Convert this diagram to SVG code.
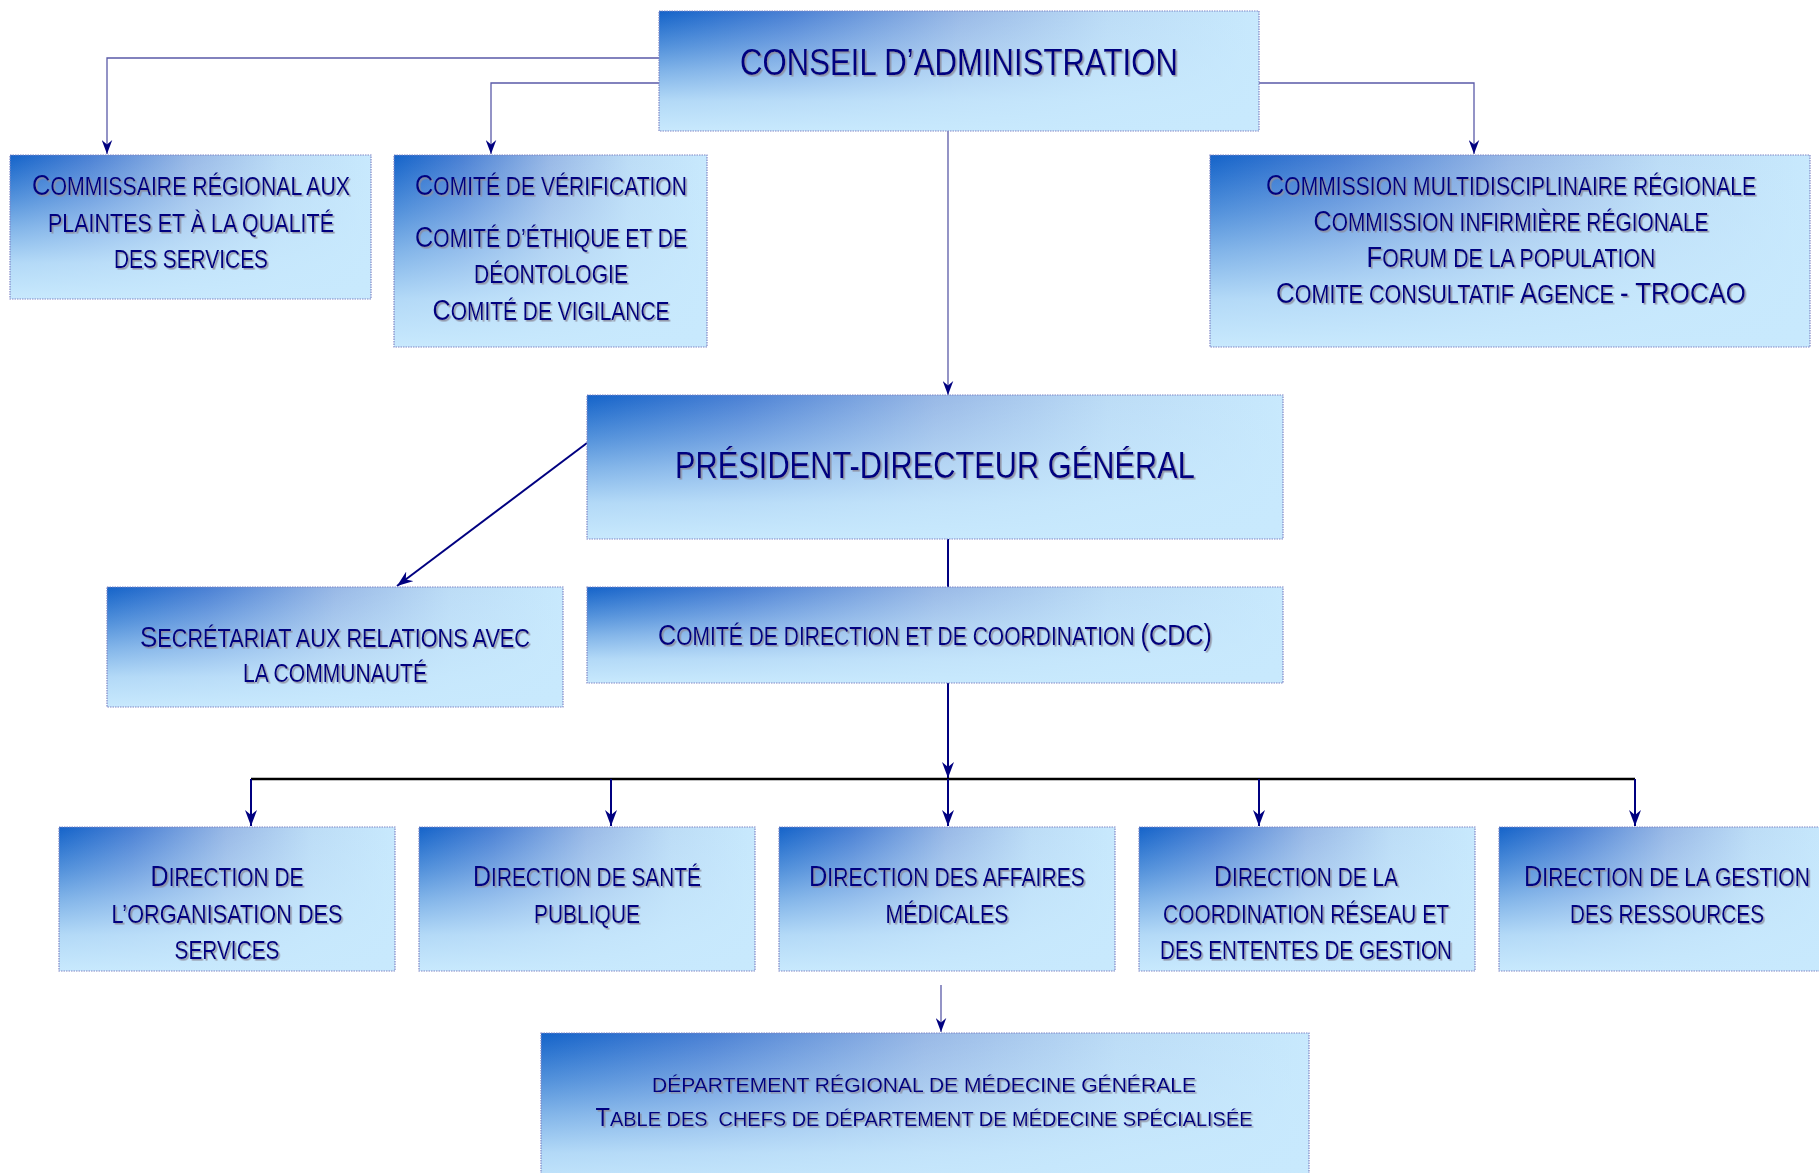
<svg xmlns="http://www.w3.org/2000/svg" width="1819" height="1173" viewBox="0 0 1819 1173">
<defs>
<linearGradient id="hg" x1="0" y1="0" x2="1" y2="0">
<stop offset="0" stop-color="#1463c9"/>
<stop offset="0.22" stop-color="#4a80d4"/>
<stop offset="0.5" stop-color="#98b8e6"/>
<stop offset="0.75" stop-color="#bcdcf6"/>
<stop offset="1" stop-color="#c8e9fd"/>
</linearGradient>
<linearGradient id="vg" x1="0" y1="0" x2="0" y2="1">
<stop offset="0" stop-color="#c8e9fd" stop-opacity="0"/>
<stop offset="0.3" stop-color="#c8e9fd" stop-opacity="0.35"/>
<stop offset="0.5" stop-color="#c8e9fd" stop-opacity="0.6"/>
<stop offset="0.75" stop-color="#c8e9fd" stop-opacity="0.88"/>
<stop offset="1" stop-color="#c8e9fd" stop-opacity="1"/>
</linearGradient>
<filter id="sh" x="-5%" y="-20%" width="110%" height="140%">
<feDropShadow dx="1.6" dy="1.6" stdDeviation="0.4" flood-color="#8c8c9c" flood-opacity="0.85"/>
</filter>
<marker id="ah" viewBox="0 0 16 12" refX="16" refY="6" markerWidth="16" markerHeight="12" markerUnits="userSpaceOnUse" orient="auto">
<path d="M0,0 L16,6 L0,12 L5,6 z" fill="#000080"/>
</marker>
<marker id="ahs" viewBox="0 0 16 12" refX="16" refY="6" markerWidth="14" markerHeight="11" markerUnits="userSpaceOnUse" orient="auto">
<path d="M0,0 L16,6 L0,12 L5,6 z" fill="#000080"/>
</marker>
</defs>
<style>
.box{fill:url(#hg)}
.ov{fill:url(#vg)}
.bd{fill:none;stroke:#7f86c6;stroke-width:1.2;stroke-dasharray:1.5 1}
.t{font-family:"Liberation Sans Narrow","Liberation Sans",Arial,sans-serif;fill:#000080;text-anchor:middle;font-size:25px;filter:url(#sh);white-space:pre}
.b{font-size:30px}
.h{font-size:37px}
.s{font-size:21px}
.bb{font-size:25px}
.thin{fill:none;stroke:#5a5aa8;stroke-width:1.3}
.nav{fill:none;stroke:#000080;stroke-width:2}
.bus{fill:none;stroke:#000000;stroke-width:2.5}
</style>
<rect width="1819" height="1173" fill="#ffffff"/>

<g id="connectors">
<path class="thin" d="M659,58 H107 V154" marker-end="url(#ahs)"/>
<path class="thin" d="M659,83 H491 V154" marker-end="url(#ahs)"/>
<path class="thin" d="M1259,83 H1474 V154" marker-end="url(#ahs)"/>
<path class="thin" d="M948,131 V395" marker-end="url(#ahs)"/>
<path class="nav" d="M587,443 L397,586" marker-end="url(#ah)"/>
<path class="nav" d="M948,539 V587" stroke-width="2.5"/>
<path class="nav" d="M948,683 V778" marker-end="url(#ah)"/>
<path class="bus" d="M251,779 H1635"/>
<path class="nav" d="M251,779 V826" marker-end="url(#ah)"/>
<path class="nav" d="M611,779 V826" marker-end="url(#ah)"/>
<path class="nav" d="M948,779 V826" marker-end="url(#ah)"/>
<path class="nav" d="M1259,779 V826" marker-end="url(#ah)"/>
<path class="nav" d="M1635,779 V826" marker-end="url(#ah)"/>
<path class="thin" d="M941,985 V1032" stroke="#000080" marker-end="url(#ahs)"/>
</g>

<g id="conseil">
<rect class="box" x="659" y="11" width="600" height="120"/>
<rect class="ov" x="659" y="11" width="600" height="120"/>
<rect class="bd" x="659" y="11" width="600" height="120"/>
<text class="t h" x="959" y="75" textLength="438" lengthAdjust="spacingAndGlyphs">CONSEIL D’ADMINISTRATION</text>
</g>

<g id="commissaire">
<rect class="box" x="10" y="155" width="361" height="144"/>
<rect class="ov" x="10" y="155" width="361" height="144"/>
<rect class="bd" x="10" y="155" width="361" height="144"/>
<text class="t" x="191" y="195" textLength="318" lengthAdjust="spacingAndGlyphs"><tspan class="b">C</tspan>OMMISSAIRE RÉGIONAL AUX</text>
<text class="t" x="191" y="232" textLength="286" lengthAdjust="spacingAndGlyphs">PLAINTES ET À LA QUALITÉ</text>
<text class="t" x="191" y="268" textLength="154" lengthAdjust="spacingAndGlyphs">DES SERVICES</text>
</g>

<g id="comites">
<rect class="box" x="394" y="155" width="313" height="192"/>
<rect class="ov" x="394" y="155" width="313" height="192"/>
<rect class="bd" x="394" y="155" width="313" height="192"/>
<text class="t" x="551" y="195" textLength="272" lengthAdjust="spacingAndGlyphs"><tspan class="b">C</tspan>OMITÉ DE VÉRIFICATION</text>
<text class="t" x="551" y="247" textLength="272" lengthAdjust="spacingAndGlyphs"><tspan class="b">C</tspan>OMITÉ D’ÉTHIQUE ET DE</text>
<text class="t" x="551" y="283" textLength="154" lengthAdjust="spacingAndGlyphs">DÉONTOLOGIE</text>
<text class="t" x="551" y="320" textLength="237" lengthAdjust="spacingAndGlyphs"><tspan class="b">C</tspan>OMITÉ DE VIGILANCE</text>
</g>

<g id="commissions">
<rect class="box" x="1210" y="155" width="600" height="192"/>
<rect class="ov" x="1210" y="155" width="600" height="192"/>
<rect class="bd" x="1210" y="155" width="600" height="192"/>
<text class="t" x="1511" y="195" textLength="490" lengthAdjust="spacingAndGlyphs"><tspan class="b">C</tspan>OMMISSION MULTIDISCIPLINAIRE RÉGIONALE</text>
<text class="t" x="1511" y="231" textLength="395" lengthAdjust="spacingAndGlyphs"><tspan class="b">C</tspan>OMMISSION INFIRMIÈRE RÉGIONALE</text>
<text class="t" x="1511" y="267" textLength="289" lengthAdjust="spacingAndGlyphs"><tspan class="b">F</tspan>ORUM DE LA POPULATION</text>
<text class="t" x="1511" y="303" textLength="470" lengthAdjust="spacingAndGlyphs"><tspan class="b">C</tspan>OMITE CONSULTATIF <tspan class="b">A</tspan>GENCE <tspan class="b">- TROCAO</tspan></text>
</g>

<g id="pdg">
<rect class="box" x="587" y="395" width="696" height="144"/>
<rect class="ov" x="587" y="395" width="696" height="144"/>
<rect class="bd" x="587" y="395" width="696" height="144"/>
<text class="t h" x="935" y="478" textLength="520" lengthAdjust="spacingAndGlyphs">PRÉSIDENT-DIRECTEUR GÉNÉRAL</text>
</g>

<g id="secretariat">
<rect class="box" x="107" y="587" width="456" height="120"/>
<rect class="ov" x="107" y="587" width="456" height="120"/>
<rect class="bd" x="107" y="587" width="456" height="120"/>
<text class="t" x="335" y="647" textLength="390" lengthAdjust="spacingAndGlyphs"><tspan class="b">S</tspan>ECRÉTARIAT AUX RELATIONS AVEC</text>
<text class="t" x="335" y="682" textLength="184" lengthAdjust="spacingAndGlyphs">LA COMMUNAUTÉ</text>
</g>

<g id="cdc">
<rect class="box" x="587" y="587" width="696" height="96"/>
<rect class="ov" x="587" y="587" width="696" height="96"/>
<rect class="bd" x="587" y="587" width="696" height="96"/>
<text class="t" x="935" y="645" textLength="554" lengthAdjust="spacingAndGlyphs"><tspan class="b">C</tspan>OMITÉ DE DIRECTION ET DE COORDINATION <tspan class="b">(CDC)</tspan></text>
</g>

<g id="dir-organisation">
<rect class="box" x="59" y="827" width="336" height="144"/>
<rect class="ov" x="59" y="827" width="336" height="144"/>
<rect class="bd" x="59" y="827" width="336" height="144"/>
<text class="t" x="227" y="886" textLength="153" lengthAdjust="spacingAndGlyphs"><tspan class="b">D</tspan>IRECTION DE</text>
<text class="t" x="227" y="923" textLength="231" lengthAdjust="spacingAndGlyphs">L’ORGANISATION DES</text>
<text class="t" x="227" y="959" textLength="105" lengthAdjust="spacingAndGlyphs">SERVICES</text>
</g>

<g id="dir-sante">
<rect class="box" x="419" y="827" width="336" height="144"/>
<rect class="ov" x="419" y="827" width="336" height="144"/>
<rect class="bd" x="419" y="827" width="336" height="144"/>
<text class="t" x="587" y="886" textLength="228" lengthAdjust="spacingAndGlyphs"><tspan class="b">D</tspan>IRECTION DE SANTÉ</text>
<text class="t" x="587" y="923" textLength="106" lengthAdjust="spacingAndGlyphs">PUBLIQUE</text>
</g>

<g id="dir-affaires">
<rect class="box" x="779" y="827" width="336" height="144"/>
<rect class="ov" x="779" y="827" width="336" height="144"/>
<rect class="bd" x="779" y="827" width="336" height="144"/>
<text class="t" x="947" y="886" textLength="276" lengthAdjust="spacingAndGlyphs"><tspan class="b">D</tspan>IRECTION DES AFFAIRES</text>
<text class="t" x="947" y="923" textLength="123" lengthAdjust="spacingAndGlyphs">MÉDICALES</text>
</g>

<g id="dir-coordination">
<rect class="box" x="1139" y="827" width="336" height="144"/>
<rect class="ov" x="1139" y="827" width="336" height="144"/>
<rect class="bd" x="1139" y="827" width="336" height="144"/>
<text class="t" x="1306" y="886" textLength="184" lengthAdjust="spacingAndGlyphs"><tspan class="b">D</tspan>IRECTION DE LA</text>
<text class="t" x="1306" y="923" textLength="286" lengthAdjust="spacingAndGlyphs">COORDINATION RÉSEAU ET</text>
<text class="t" x="1306" y="959" textLength="292" lengthAdjust="spacingAndGlyphs">DES ENTENTES DE GESTION</text>
</g>

<g id="dir-ressources">
<rect class="box" x="1499" y="827" width="336" height="144"/>
<rect class="ov" x="1499" y="827" width="336" height="144"/>
<rect class="bd" x="1499" y="827" width="336" height="144"/>
<text class="t" x="1667" y="886" textLength="286" lengthAdjust="spacingAndGlyphs"><tspan class="b">D</tspan>IRECTION DE LA GESTION</text>
<text class="t" x="1667" y="923" textLength="194" lengthAdjust="spacingAndGlyphs">DES RESSOURCES</text>
</g>

<g id="departement">
<rect class="box" x="541" y="1033" width="768" height="160"/>
<rect class="ov" x="541" y="1033" width="768" height="160"/>
<rect class="bd" x="541" y="1033" width="768" height="160"/>
<text class="t s" x="924" y="1092" textLength="544" lengthAdjust="spacingAndGlyphs">DÉPARTEMENT RÉGIONAL DE MÉDECINE GÉNÉRALE</text>
<text class="t s" x="924" y="1126" textLength="657" lengthAdjust="spacingAndGlyphs"><tspan class="bb">T</tspan>ABLE DES  CHEFS DE DÉPARTEMENT DE MÉDECINE SPÉCIALISÉE</text>
</g>
</svg>
